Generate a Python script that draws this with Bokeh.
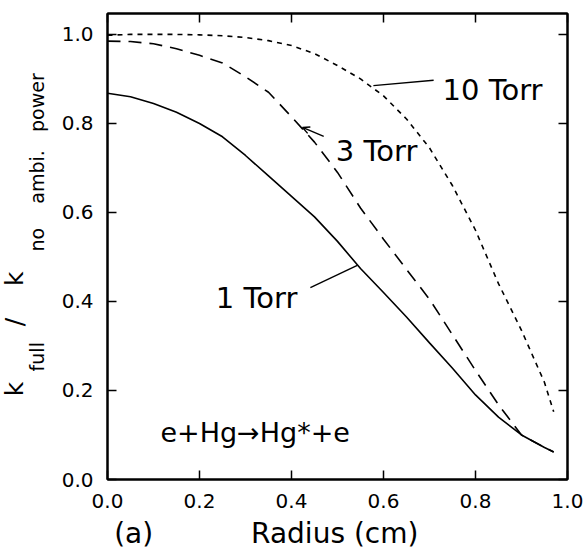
from bokeh.plotting import figure
from bokeh.models import (Range1d, LinearAxis, FixedTicker, PrintfTickFormatter,
                          Label, Arrow, OpenHead, ColumnDataSource, Title)
from bokeh.embed import file_html
from bokeh.resources import INLINE

# ---- data ----
radius = [0.0, 0.05, 0.1, 0.15, 0.2, 0.25, 0.3, 0.35, 0.4, 0.45, 0.5,
          0.55, 0.6, 0.65, 0.7, 0.75, 0.8, 0.85, 0.9, 0.95, 0.97]
torr1 = [0.868, 0.860, 0.845, 0.825, 0.800, 0.770, 0.728, 0.682, 0.636, 0.590, 0.535,
         0.474, 0.420, 0.365, 0.307, 0.250, 0.190, 0.140, 0.100, 0.072, 0.062]
torr3 = [0.985, 0.984, 0.979, 0.968, 0.953, 0.936, 0.905, 0.870, 0.815, 0.758, 0.690,
         0.610, 0.540, 0.472, 0.405, 0.325, 0.245, 0.168, 0.100, 0.072, 0.062]
torr10 = [0.998, 1.000, 1.000, 1.000, 0.999, 0.997, 0.993, 0.986, 0.975, 0.957, 0.930,
          0.900, 0.862, 0.810, 0.745, 0.660, 0.560, 0.440, 0.335, 0.218, 0.152]
ticks = [0.0, 0.2, 0.4, 0.6, 0.8, 1.0]
series_labels = ["1 Torr", "3 Torr", "10 Torr"]
reaction = "e+Hg\u2192Hg*+e"
panel_tag = "(a)"
x_title = "Radius (cm)"
y_main = ["k", "/", "k"]
y_sub = ["full", "no", "ambi.", "power"]

FONT = "DejaVu Sans"
NB = "\u00a0"

p = figure(width=583, height=559, output_backend="svg", toolbar_location=None,
           x_range=Range1d(0.0, 1.0), y_range=Range1d(0.0, 1.047),
           min_border_left=107, min_border_right=16, min_border_top=13,
           min_border_bottom=80)
p.xgrid.visible = False
p.ygrid.visible = False
p.outline_line_color = "black"
p.outline_line_width = 2
p.background_fill_color = "white"
p.border_fill_color = "white"

def style_axis(ax, show_labels=True):
    ax.ticker = FixedTicker(ticks=ticks)
    ax.formatter = PrintfTickFormatter(format="%.1f")
    ax.axis_line_width = 2
    ax.axis_line_color = "black"
    ax.major_tick_in = 9
    ax.major_tick_out = 0
    ax.major_tick_line_width = 1.5
    ax.minor_tick_line_color = None
    if show_labels:
        ax.major_label_text_font = FONT
        ax.major_label_text_font_size = "20px"
        ax.major_label_text_color = "black"
        ax.major_label_standoff = 14
    else:
        ax.major_label_text_font_size = "0px"
        ax.major_label_standoff = 0

style_axis(p.xaxis[0])
style_axis(p.yaxis[0])

# x-axis title (panel tag "(a)" shares the same line, spaced with NBSPs)
xa = p.xaxis[0]
xa.axis_label = panel_tag + NB * 11 + x_title + NB * 16
xa.axis_label_text_font = FONT
xa.axis_label_text_font_size = "28px"
xa.axis_label_text_font_style = "normal"
xa.axis_label_text_color = "black"
xa.axis_label_standoff = 6

# y-axis title: subscripts as the axis label, main letters as a title further out
ya = p.yaxis[0]
ya.axis_label = (NB * 8 + y_sub[0] + NB * 15 + y_sub[1] + NB * 4 + y_sub[2]
                 + NB * 3 + y_sub[3])
ya.axis_label_text_font = FONT
ya.axis_label_text_font_size = "19px"
ya.axis_label_text_font_style = "normal"
ya.axis_label_text_color = "black"
ya.axis_label_standoff = 11

main_title = Title(text=y_main[0] + NB * 7 + y_main[1] + NB * 4 + y_main[2] + NB * 22,
                   text_font=FONT, text_font_size="25px", text_font_style="normal",
                   text_color="black", align="center", standoff=0)
try:
    main_title.standoff = -13
except Exception:
    main_title.standoff = 0
p.add_layout(main_title, "left")

top = LinearAxis()
style_axis(top, False)
p.add_layout(top, "above")
right = LinearAxis()
style_axis(right, False)
p.add_layout(right, "right")

src = ColumnDataSource(dict(r=radius, t1=torr1, t3=torr3, t10=torr10))
p.line("r", "t1", source=src, line_color="black", line_width=1.6)
p.line("r", "t3", source=src, line_color="black", line_width=1.6, line_dash="13 8")
p.line("r", "t10", source=src, line_color="black", line_width=1.6, line_dash="5 5")

# leader lines
p.line([0.441, 0.543], [0.431, 0.481], line_color="black", line_width=1.4)
p.line([0.578, 0.709], [0.885, 0.897], line_color="black", line_width=1.4)
p.add_layout(Arrow(end=OpenHead(size=7, line_width=1.4, line_color="black"),
                   x_start=0.470, y_start=0.771, x_end=0.424, y_end=0.791,
                   line_width=1.4, line_color="black"))

def lab(text, x, y, size, align="left"):
    p.add_layout(Label(x=x, y=y, text=text, text_font=FONT, text_font_size=size,
                       text_align=align, text_baseline="alphabetic",
                       text_color="black"))

lab(series_labels[0], 0.324, 0.407, "29px", align="center")
lab(series_labels[1], 0.585, 0.739, "29px", align="center")
lab(series_labels[2], 0.837, 0.876, "29px", align="center")
lab(reaction, 0.115, 0.106, "27px")

open("out.html", "w").write(file_html(p, INLINE))
